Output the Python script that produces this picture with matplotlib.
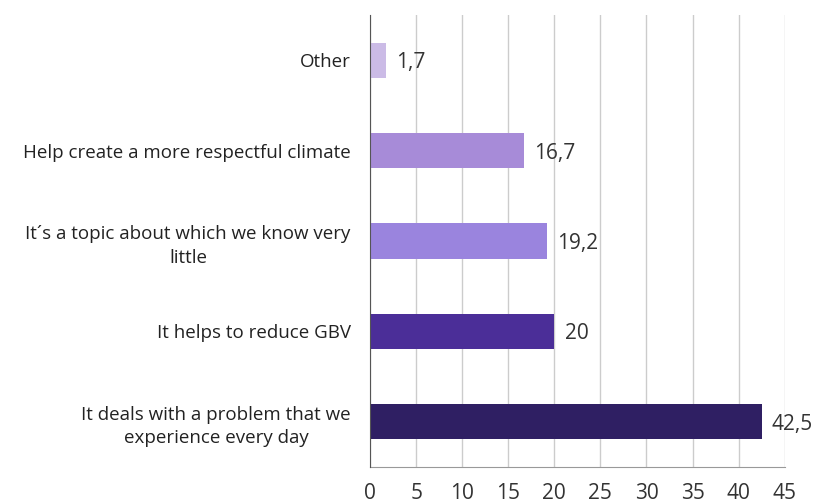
import matplotlib.pyplot as plt

categories = [
    "It deals with a problem that we\nexperience every day",
    "It helps to reduce GBV",
    "It\u00b4s a topic about which we know very\nlittle",
    "Help create a more respectful climate",
    "Other",
]
values = [42.5, 20, 19.2, 16.7, 1.7]
value_labels = ["42,5", "20", "19,2", "16,7", "1,7"]
bar_colors = ["#2f1f63", "#4b2e98", "#9a84de", "#a78bd8", "#cbbbe6"]
x_ticks = [0, 5, 10, 15, 20, 25, 30, 35, 40, 45]

plt.rcParams["font.family"] = ["Open Sans", "DejaVu Sans"]

fig = plt.figure(figsize=(8.19, 5.03), dpi=100)
ax = fig.add_axes([0.452, 0.072, 0.506, 0.898])

pos = range(len(categories))
ax.barh(pos, values, height=0.39, color=bar_colors, zorder=3)

for p, v, lab in zip(pos, values, value_labels):
    ax.text(v + 1.1, p - 0.03, lab, va="center", ha="left", fontsize=15, color="#333333")

ax.set_xlim(0, 45)
ax.set_ylim(-0.5, 4.5)
ax.set_xticks(x_ticks)
ax.set_yticks(list(pos))
ax.set_yticklabels(categories, fontsize=13.5, color="#222222", multialignment="center",
                   linespacing=1.4)
ax.tick_params(axis="x", length=0, pad=12, labelsize=15, labelcolor="#333333")
ax.tick_params(axis="y", length=0, pad=14)

ax.grid(axis="x", color="#cccccc", linewidth=1, zorder=0)
for s in ["top", "right"]:
    ax.spines[s].set_visible(False)
ax.spines["left"].set_color("#555555")
ax.spines["bottom"].set_color("#999999")
ax.spines["left"].set_zorder(4)

plt.savefig("out.png", dpi=100)
